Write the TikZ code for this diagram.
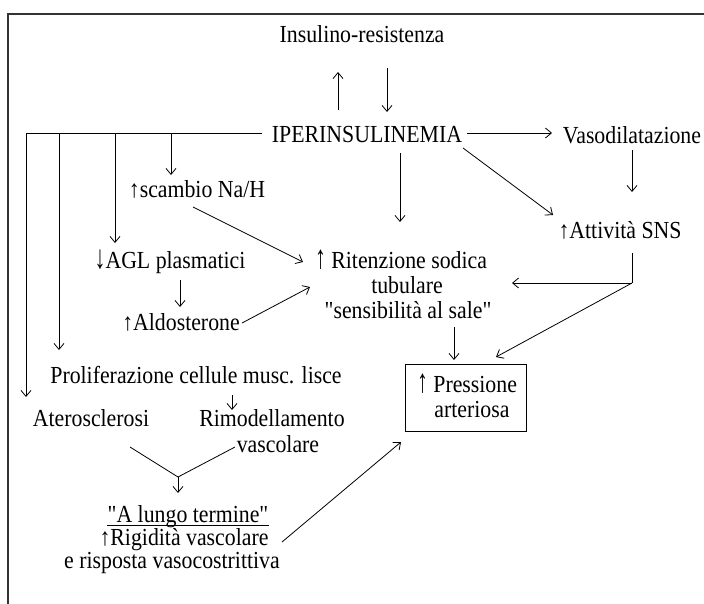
\documentclass[tikz,border=0pt]{standalone}
\usepackage{fontspec}
% plain family: no TeX ligature mapping, so " stays a straight quote
\newfontfamily\diagfont[FakeStretch=0.89]{Liberation Serif}
\usetikzlibrary{arrows.meta}
% taller arrow signs for "increase" / "decrease"
\newcommand{\incr}{\scalebox{1}[1.35]{↑}}
\newcommand{\decr}{\scalebox{1}[1.35]{↓}}
\begin{document}
\begin{tikzpicture}[x=1pt,y=-1pt,line width=0.8pt,
  txt/.style={inner sep=0pt,anchor=base,font=\diagfont\fontsize{24.5}{25}\selectfont},
  arr/.style={-{Straight Barb[length=6pt,width=10pt]}},
  frame/.style={line width=1.4pt,draw=black!80}]
\useasboundingbox (0,0) rectangle (704,603);
% outer frame (runs past the right and bottom edges)
\draw[frame] (8,660) -- (8,14) -- (760,14);

% texts
\node[txt] (ins)   at (362,42)  {Insulino-resistenza};
\node[txt] (iper)  at (367,142) {IPERINSULINEMIA};
\node[txt] (vaso)  at (632,143) {Vasodilatazione};
\node[txt] (sns)   at (620,238) {↑Attività SNS};
\node[txt] (nah)   at (197,197) {↑scambio Na/H};
\node[txt] (agl)   at (170,268) {\decr AGL plasmatici};
\node[txt] (rit1)  at (401,268) {\incr\ Ritenzione sodica};
\node[txt] (rit2)  at (407,293) {tubulare};
\node[txt] (rit3)  at (408,318) {"sensibilità al sale"};
\node[txt] (aldo)  at (181,330) {↑Aldosterone};
\node[txt] (prol)  at (196,383) {Proliferazione cellule musc. lisce};
\node[txt] (ater)  at (91,426)  {Aterosclerosi};
\node[txt] (rimo1) at (272,426) {Rimodellamento};
\node[txt] (rimo2) at (278,452) {vascolare};
\node[txt] (lung)  at (188,522) {"A lungo termine"};
\node[txt] (rig1)  at (184,545) {↑Rigidità vascolare};
\node[txt] (rig2)  at (172,568) {e risposta vasocostrittiva};
\node[draw,line width=0.9pt,minimum width=121pt,minimum height=67pt,inner sep=0pt]
      (press) at (465.5,397.5) {};
\node[txt] (press1) at (467,392) {\incr\ Pressione};
\node[txt] (press2) at (472,417) {arteriosa};

% underline of the heading
\draw[line width=0.7pt] ([yshift=-3.5pt]lung.base west) -- ([yshift=-3.5pt]lung.base east);

% connector end points
\coordinate (insUpS) at (338,110);  \coordinate (insUpE) at (338,72);
\coordinate (insDnS) at (387,68);   \coordinate (insDnE) at (387,112);
\coordinate (iperR)  at (467,133);  \coordinate (vasoL)  at (552,133);
\coordinate (vasoB)  at (632,150);  \coordinate (snsT)   at (632,192);
\coordinate (iperD)  at (463,148);  \coordinate (snsTL)  at (553,215);
\coordinate (iperB)  at (400,153);  \coordinate (ritT)   at (400,222);
\coordinate (busR)   at (262,133);
\coordinate (bus1)   at (26,133);   \coordinate (aterT)  at (26,397);
\coordinate (bus2)   at (59,133);   \coordinate (prolT)  at (59,350);
\coordinate (bus3)   at (115,133);  \coordinate (aglT)   at (115,243);
\coordinate (bus4)   at (171,133);  \coordinate (nahT)   at (171,175);
\coordinate (nahB)   at (193,207);  \coordinate (ritL)   at (303,262);
\coordinate (aglB)   at (180,280);  \coordinate (aldoT)  at (180,307);
\coordinate (aldoR)  at (242,323);  \coordinate (ritLL)  at (310,287);
\coordinate (snsB)   at (632,253);  \coordinate (snsK)   at (632,283);
\coordinate (ritR)   at (512,283);  \coordinate (pressTR) at (496,357);
\coordinate (ritB)   at (454,327);  \coordinate (pressT) at (454,360);
\coordinate (prolB)  at (232,395);  \coordinate (rimoT)  at (232,410);
\coordinate (aterB)  at (130,447);  \coordinate (rimoB)  at (235,447);
\coordinate (vtip)   at (178,477);  \coordinate (lungT)  at (178,493);
\coordinate (rigR)   at (282,542);  \coordinate (pressBL) at (401,442);

% connectors
\draw[arr] (insUpS) -- (insUpE);
\draw[arr] (insDnS) -- (insDnE);
\draw[arr] (iperR) -- (vasoL);
\draw[arr] (vasoB) -- (snsT);
\draw[arr] (iperD) -- (snsTL);
\draw[arr] (iperB) -- (ritT);
\draw[arr] (busR) -- (bus1) -- (aterT);
\draw[arr] (bus2) -- (prolT);
\draw[arr] (bus3) -- (aglT);
\draw[arr] (bus4) -- (nahT);
\draw[arr] (nahB) -- (ritL);
\draw[arr] (aglB) -- (aldoT);
\draw[arr] (aldoR) -- (ritLL);
\draw (snsB) -- (snsK);
\draw[arr] (snsK) -- (ritR);
\draw[arr] (snsK) -- (pressTR);
\draw[arr] (ritB) -- (pressT);
\draw[arr] (prolB) -- (rimoT);
\draw (aterB) -- (vtip) -- (rimoB);
\draw[arr] (vtip) -- (lungT);
\draw[arr] (rigR) -- (pressBL);
\end{tikzpicture}
\end{document}
